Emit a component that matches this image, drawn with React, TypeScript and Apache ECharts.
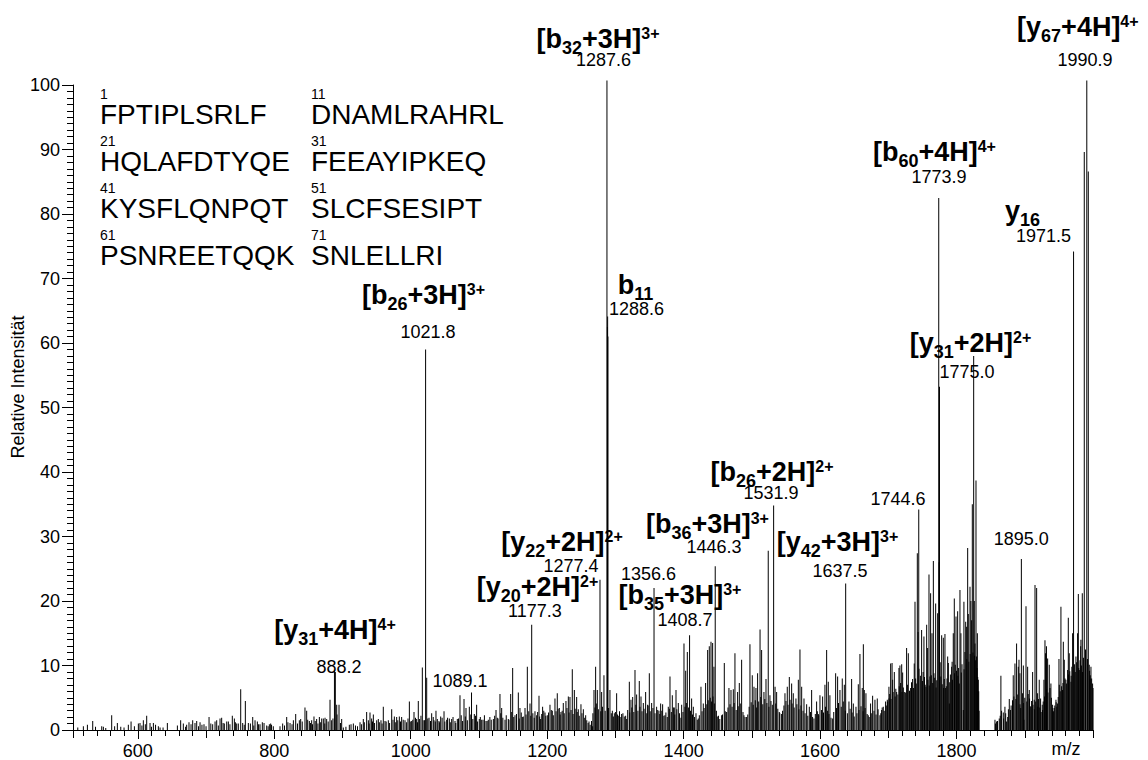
import { useEffect, useRef } from 'react';
import * as echarts from 'echarts';

const FONT = 'Liberation Sans, Arial, Helvetica, sans-serif';

// ---- labelled / tall peaks [m/z, relative intensity] ----
const majorPeaks: number[][] = [
  [888.2, 9.3], [889.5, 9.0], [1021.8, 59.0], [1089.1, 5.8], [1177.3, 16.3], [1277.4, 23.3],
  [1287.6, 100.7], [1288.3, 62.5], [1288.6, 64.1], [1289.0, 61.0], [1356.6, 22.0], [1408.7, 14.7],
  [1446.3, 25.4], [1524.0, 27.8], [1531.9, 34.8], [1637.5, 22.7], [1744.6, 34.2], [1773.9, 82.5],
  [1775.0, 53.2], [1825.1, 58.0], [1895.0, 26.5], [1971.5, 74.2], [1987.2, 89.6], [1990.9, 100.7],
  [1993.1, 86.6],
];

const peaksLow: number[][] = [
  [520.2, 0.6], [526.1, 0.8], [533.9, 1.4], [547.1, 0.6], [549.5, 0.5], [561.7, 2.3], [570.0, 1.1], [579.8, 0.4],
  [586.1, 0.8], [590.1, 1.3], [600.8, 1.0], [603.2, 1.1], [608.1, 1.5], [613.0, 2.2], [617.9, 1.1], [622.8, 1.1],
  [630.1, 0.6], [632.6, 0.4], [643.3, 1.1], [658.0, 0.7], [662.8, 1.5], [666.7, 1.0], [671.6, 0.8], [675.0, 1.2],
  [680.4, 1.5], [683.8, 1.1], [686.3, 1.4], [691.2, 1.2], [697.0, 0.9], [704.4, 2.0], [709.7, 0.9], [713.2, 1.3],
  [715.6, 1.5], [720.5, 1.8], [722.9, 1.9], [726.8, 1.0], [730.3, 1.3], [732.7, 1.3], [738.5, 2.2], [741.5, 1.8],
  [744.9, 1.0], [747.3, 1.0], [750.8, 6.3], [753.7, 1.1], [757.6, 4.5], [762.0, 1.1], [768.4, 2.0], [771.8, 1.5],
  [775.2, 1.3], [779.1, 0.9], [782.5, 1.2], [788.9, 0.7], [792.8, 0.9], [794.7, 1.0], [798.6, 0.6], [808.4, 0.6],
  [812.3, 1.0], [818.2, 2.0], [823.1, 1.1], [828.0, 1.5], [831.4, 2.5], [836.7, 1.5], [838.7, 1.7], [845.0, 3.5],
  [847.5, 3.0], [851.4, 1.4], [854.8, 1.5], [858.2, 2.1], [862.1, 1.7], [866.1, 2.0], [869.5, 1.8], [871.9, 1.8],
  [874.4, 1.9], [876.8, 1.7], [881.7, 4.7], [884.1, 1.5], [891.5, 3.9], [894.9, 3.9], [898.8, 1.7], [901.2, 0.4],
  [910.0, 0.8], [912.5, 0.9], [915.9, 1.0], [925.7, 1.2], [930.5, 1.7], [935.4, 2.8], [937.9, 1.5], [940.3, 2.7],
  [942.7, 1.8], [945.2, 2.4], [950.1, 1.5], [952.5, 1.7], [956.4, 1.5], [959.8, 3.6], [962.3, 1.4], [967.2, 1.5],
  [972.1, 3.2], [976.0, 2.1], [979.4, 2.0], [983.3, 2.1], [986.7, 2.0], [991.6, 1.5], [998.0, 4.4], [1001.4, 1.4],
  [1004.8, 2.8], [1008.7, 1.7], [1011.1, 4.5], [1017.0, 9.7], [1019.4, 1.5], [1023.4, 8.1], [1026.8, 1.9],
  [1030.7, 2.6], [1034.1, 1.5], [1037.0, 3.0], [1041.4, 1.4], [1043.9, 2.1],
];

const peaksMid: number[][] = [
  [1048.8, 2.9], [1052.7, 1.6], [1056.6, 1.8], [1060.0, 1.7], [1064.9, 1.4], [1068.3, 1.7], [1072.2, 5.4],
  [1078.1, 4.8], [1081.0, 3.4], [1085.9, 3.6], [1093.2, 2.5], [1096.6, 3.9], [1100.5, 1.7], [1104.0, 1.6],
  [1110.3, 1.4], [1113.7, 1.6], [1121.1, 1.7], [1125.0, 3.1], [1126.9, 1.9], [1130.8, 5.6], [1133.3, 3.4],
  [1138.2, 1.6], [1143.0, 1.7], [1146.5, 5.6], [1149.4, 9.6], [1152.8, 2.3], [1157.7, 5.8], [1160.1, 3.4],
  [1163.6, 2.0], [1167.5, 3.4], [1170.9, 9.8], [1174.8, 4.1], [1182.1, 2.9], [1184.6, 2.3], [1188.0, 5.3],
  [1190.4, 1.7], [1193.3, 3.6], [1196.8, 2.7], [1200.2, 2.3], [1204.1, 3.9], [1207.5, 3.0], [1211.4, 4.9],
  [1214.8, 5.7], [1217.8, 3.4], [1220.2, 2.8], [1223.6, 4.2], [1227.5, 4.5], [1231.0, 5.2], [1233.4, 5.1],
  [1236.8, 9.4], [1239.8, 6.2], [1243.2, 5.1], [1245.6, 3.2], [1249.5, 4.0], [1253.0, 3.2], [1256.4, 2.3],
  [1261.3, 1.3], [1266.6, 0.6], [1268.6, 6.2], [1271.0, 9.8], [1273.5, 6.2], [1279.8, 5.9], [1283.2, 8.5],
  [1292.0, 6.2], [1295.5, 3.0], [1298.4, 2.6], [1301.8, 5.7], [1304.2, 2.2], [1309.1, 2.5], [1313.0, 2.1],
  [1316.5, 1.7], [1320.4, 7.5], [1322.8, 4.7], [1325.3, 5.1], [1328.7, 9.3], [1331.1, 5.5], [1335.0, 7.6],
  [1337.5, 5.2], [1340.9, 4.2], [1344.3, 5.9], [1347.2, 3.9], [1349.7, 8.8], [1353.1, 4.2], [1360.4, 3.6],
  [1363.8, 3.0], [1366.3, 4.1], [1369.2, 4.0], [1372.6, 2.3], [1377.5, 3.6], [1380.0, 8.3], [1383.4, 5.4],
  [1386.3, 3.5], [1388.8, 6.2], [1392.2, 4.2], [1397.1, 3.9], [1400.5, 13.4], [1403.0, 9.2], [1405.4, 12.1],
  [1411.7, 4.9], [1414.2, 3.6], [1418.1, 2.6], [1421.5, 1.8], [1425.4, 6.7], [1428.8, 4.1], [1432.2, 7.3],
  [1435.2, 12.4], [1437.6, 13.0], [1440.1, 13.7], [1442.5, 13.5], [1444.4, 9.8], [1449.3, 2.1], [1455.7, 2.3],
  [1459.6, 10.4], [1463.0, 2.8], [1466.4, 6.5], [1469.4, 6.2], [1472.8, 6.3], [1475.2, 11.9], [1479.1, 5.9],
  [1481.6, 7.3], [1485.0, 10.9], [1488.4, 2.3], [1492.3, 2.0], [1497.2, 13.3], [1500.6, 8.5], [1503.1, 6.7],
  [1506.0, 6.5], [1508.4, 8.8], [1512.0, 15.6], [1514.3, 12.4], [1517.7, 5.9], [1520.7, 7.9], [1526.5, 5.4],
  [1534.0, 6.7], [1536.3, 5.9], [1540.2, 2.8], [1543.6, 2.5], [1548.5, 5.7], [1551.9, 6.7], [1554.9, 8.2],
  [1558.3, 7.2], [1560.7, 5.7], [1564.6, 4.9], [1568.1, 7.8], [1570.5, 12.5], [1573.0, 6.7], [1576.4, 4.9],
  [1580.3, 4.0], [1584.2, 3.6], [1586.0, 2.8], [1587.6, 6.2], [1591.0, 1.8], [1594.9, 4.4], [1597.4, 2.5],
  [1599.8, 5.4], [1603.7, 5.2], [1607.1, 7.0], [1609.6, 12.4], [1612.0, 7.5], [1614.4, 5.4], [1618.4, 1.8],
];

const peaksHigh: number[][] = [
  [1622.8, 8.8], [1625.7, 8.3], [1629.1, 6.2], [1632.5, 8.0], [1635.5, 7.0], [1642.3, 4.4], [1646.2, 7.9],
  [1648.7, 4.1], [1652.6, 3.6], [1656.0, 7.1], [1658.4, 11.8], [1661.8, 6.5], [1663.4, 13.3], [1664.8, 6.2],
  [1667.2, 5.7], [1670.6, 2.3], [1674.0, 4.1], [1677.0, 5.3], [1680.4, 4.7], [1683.8, 4.9], [1687.7, 2.3],
  [1690.2, 3.1], [1692.6, 3.6], [1696.0, 4.4], [1698.5, 4.7], [1700.9, 6.7], [1703.4, 10.3], [1705.5, 10.4],
  [1706.3, 7.8], [1708.8, 9.0], [1712.2, 5.9], [1715.6, 9.6], [1717.0, 10.0], [1718.0, 7.3], [1719.6, 10.2],
  [1721.0, 8.9], [1723.4, 5.9], [1726.8, 12.7], [1729.3, 11.9], [1732.7, 6.5], [1735.6, 7.9], [1738.0, 10.3],
  [1739.1, 19.9], [1742.5, 27.4], [1743.6, 15.2], [1748.8, 15.5], [1752.2, 14.5], [1755.2, 6.7], [1756.2, 16.3],
  [1757.6, 12.7], [1759.6, 24.1], [1761.0, 8.3], [1762.0, 21.2], [1764.0, 15.0], [1766.0, 26.2], [1766.9, 8.8],
  [1769.4, 19.6], [1772.3, 18.1], [1774.5, 26.0], [1778.2, 14.7], [1780.6, 14.3], [1783.0, 14.9], [1784.0, 6.5],
  [1787.0, 11.4], [1788.0, 10.4], [1789.4, 4.1], [1792.8, 9.8], [1793.5, 10.6], [1795.2, 15.0], [1796.7, 20.4],
  [1798.1, 10.1], [1799.2, 17.6], [1801.6, 18.4], [1804.0, 7.2], [1805.0, 21.7], [1806.4, 15.0], [1809.9, 3.1],
  [1810.8, 19.9], [1812.3, 12.1], [1813.4, 16.8], [1814.8, 16.0], [1816.3, 28.2], [1817.2, 18.0], [1819.7, 22.2],
  [1821.0, 20.0], [1822.1, 17.0], [1823.1, 35.0], [1826.0, 20.0], [1827.0, 13.4], [1828.5, 38.7], [1829.4, 11.4],
  [1830.5, 15.0], [1831.9, 7.8], [1833.0, 3.0],
];

const peaksTail: number[][] = [
  [1856.3, 1.6], [1858.7, 1.3], [1862.6, 1.8], [1865.0, 8.4], [1868.5, 2.7], [1870.9, 3.6], [1873.4, 1.3],
  [1877.3, 4.8], [1879.2, 3.1], [1883.1, 8.5], [1885.6, 10.3], [1888.0, 13.4], [1890.5, 9.8], [1891.5, 10.9],
  [1892.9, 8.8], [1896.8, 5.7], [1897.9, 10.0], [1898.8, 1.6], [1901.8, 19.2], [1904.2, 9.8], [1906.6, 6.2],
  [1909.0, 3.6], [1911.5, 9.0], [1913.9, 4.7], [1915.0, 22.5], [1917.4, 22.0], [1918.8, 5.7], [1921.2, 7.8],
  [1923.2, 4.9], [1925.6, 3.9], [1928.1, 7.8], [1929.6, 13.9], [1930.5, 11.9], [1931.8, 13.0], [1933.5, 11.1],
  [1935.9, 10.1], [1938.3, 7.2], [1940.8, 3.9], [1943.2, 3.4], [1945.7, 4.7], [1948.1, 4.1], [1950.1, 11.0],
  [1950.6, 7.0], [1953.0, 19.1], [1955.4, 6.2], [1956.5, 13.7], [1957.9, 10.9], [1960.3, 7.8], [1962.8, 9.3],
  [1963.8, 17.4], [1965.2, 11.9], [1967.7, 7.5], [1970.1, 15.0], [1975.0, 11.4], [1977.4, 15.0], [1978.5, 21.1],
  [1979.9, 9.3], [1981.9, 13.0], [1982.3, 14.0], [1984.3, 21.2], [1984.7, 9.0], [1994.5, 10.1], [1995.6, 8.0],
  [1997.0, 9.8], [1999.4, 7.2],
];

// ---- low "grass" peaks along the baseline ----
const grassLow: number[][] = [
  [512, 0.4], [538, 0.5], [553, 0.3], [566, 0.6], [575, 0.5], [595, 0.6], [606, 0.7], [611, 0.9], [620, 0.5],
  [626, 0.8], [637, 0.4], [670, 0.5], [678, 0.9], [689, 0.6], [694, 0.8], [700, 0.6], [707, 1.0], [718, 0.7],
  [725, 1.1], [735, 0.9], [743, 1.2], [756, 0.8], [765, 1.0], [770, 0.7], [777, 0.9], [785, 1.1], [791, 0.6],
  [796, 0.8], [815, 0.7], [820, 1.2], [826, 0.9], [834, 1.0], [841, 1.3], [849, 1.6], [853, 1.1], [856, 0.9],
  [860, 1.4], [864, 1.0], [868, 1.2], [874, 1.0], [879, 1.3], [886, 1.8], [892, 2.4], [897, 1.1],
  [905, 0.5], [919, 0.7], [922, 0.6], [928, 0.9], [932, 1.2], [939, 1.0], [944, 1.3], [947, 1.1], [954, 1.2],
  [958, 1.0], [964, 1.3], [969, 1.1], [974, 1.6], [978, 1.2], [981, 1.5], [985, 1.3], [989, 1.6], [994, 1.2],
  [996, 1.8], [1000, 1.3], [1003, 1.6], [1007, 1.9], [1010, 1.2], [1013, 1.7], [1015, 2.2], [1020, 1.5],
  [1025, 1.8], [1029, 1.4], [1033, 2.0], [1036, 1.3], [1039, 1.7], [1042, 1.2], [1046, 1.9],
];

const grassMid: number[][] = [
  [1050, 1.3], [1054, 1.9], [1058, 1.2], [1062, 2.0], [1066, 1.1], [1070, 1.8], [1074, 2.3], [1076, 1.4],
  [1080, 2.1], [1083, 1.5], [1088, 2.4], [1091, 1.7], [1095, 2.2], [1098, 1.3], [1102, 2.0], [1106, 1.6],
  [1108, 2.3], [1112, 1.4], [1116, 2.0], [1118, 1.6], [1123, 2.2], [1128, 1.8], [1132, 2.6], [1135, 1.9],
  [1140, 2.3], [1144, 1.6], [1148, 2.8], [1151, 2.0], [1155, 2.5], [1159, 1.8], [1162, 2.7], [1165, 2.1],
  [1169, 2.4], [1173, 2.9], [1176, 2.2], [1179, 2.6], [1181, 1.9], [1186, 2.8], [1189, 2.1], [1192, 2.5],
  [1195, 3.0], [1198, 2.2], [1202, 2.7], [1206, 3.1], [1209, 2.3], [1213, 2.9], [1216, 3.3], [1219, 2.4],
  [1222, 3.0], [1225, 2.6], [1229, 3.4], [1232, 2.7], [1235, 3.1], [1238, 2.5], [1241, 3.3], [1244, 2.8],
  [1247, 2.2], [1251, 2.6], [1255, 1.9], [1258, 1.5], [1260, 1.1], [1263, 0.8], [1265, 1.4], [1267, 2.6],
  [1270, 3.5], [1272, 4.1], [1275, 3.2], [1278.5, 2.9], [1281, 3.6], [1285, 3.0], [1290, 3.4], [1294, 2.6],
  [1297, 2.1], [1300, 2.8], [1303, 2.4], [1306, 2.9], [1308, 2.0], [1311, 2.6], [1315, 2.2], [1318, 3.1],
  [1321, 2.7], [1324, 3.5], [1327, 2.8], [1330, 3.9], [1333, 3.0], [1336, 3.6], [1339, 2.9], [1342, 3.3],
  [1346, 2.6], [1348, 3.8], [1351, 2.9], [1355, 3.4], [1358, 2.6], [1362, 3.1], [1365, 2.5], [1368, 3.0],
  [1371, 2.2], [1374, 2.7], [1376, 2.0], [1379, 3.3], [1382, 2.8], [1385, 3.5], [1387, 2.4], [1390, 3.2],
  [1394, 2.6], [1396, 1.9], [1399, 2.8], [1402, 3.6], [1404, 4.2], [1407, 3.5], [1410, 3.0], [1413, 2.4],
  [1416, 2.0], [1420, 1.6], [1423, 2.3], [1427, 2.9], [1430, 3.4], [1434, 4.0], [1436, 4.6], [1439, 5.0],
  [1441, 4.4], [1443, 5.2], [1445, 4.1], [1448, 3.0], [1451, 2.2], [1453, 1.7], [1457, 2.4], [1461, 2.9],
  [1465, 3.5], [1468, 4.0], [1471, 3.6], [1474, 4.2], [1477, 3.1], [1480, 3.7], [1483, 4.1], [1487, 2.8],
  [1490, 2.0], [1494, 2.4], [1496, 3.6], [1499, 4.3],
];

const grassHigh: number[][] = [
  [1502, 3.9], [1505, 4.6], [1507, 3.5], [1510, 4.4], [1513, 5.1], [1516, 4.0], [1519, 4.8], [1522, 4.2],
  [1525, 3.6], [1528, 4.5], [1530, 3.9], [1535, 4.1], [1538, 3.3], [1541, 2.6], [1545, 3.0], [1547, 3.8],
  [1550, 4.5], [1553, 3.9], [1556, 4.7], [1559, 4.1], [1562, 3.5], [1566, 4.0], [1569, 3.2], [1572, 3.8],
  [1575, 3.0], [1578, 2.6], [1582, 2.2], [1589, 2.0], [1593, 2.5], [1596, 2.9], [1598, 2.3], [1602, 3.1],
  [1605, 2.7], [1608, 3.6], [1611, 3.0], [1613, 2.5], [1616, 1.9], [1620, 2.8], [1624, 3.4], [1627, 4.2],
  [1631, 3.6], [1634, 4.4], [1637, 3.0], [1640, 2.6], [1644, 3.3], [1647, 2.7], [1650, 2.1], [1654, 2.6],
  [1657, 3.1], [1660, 3.7], [1663, 2.9], [1666, 3.4], [1669, 2.5], [1672, 2.0], [1675, 2.6], [1679, 3.0],
  [1682, 2.4], [1685, 3.2], [1689, 2.6], [1691, 3.5], [1694, 3.0], [1697, 3.8], [1699, 4.4],
  [1701, 4.9], [1702, 5.6], [1704, 4.8], [1707, 5.9], [1710, 5.2], [1711, 6.4], [1714, 5.5], [1716, 6.8],
  [1720, 5.9], [1722, 6.6], [1725, 5.8], [1728, 7.0], [1731, 6.1], [1734, 7.4], [1737, 6.5], [1740, 8.0],
  [1741, 7.2], [1745, 9.5], [1747, 8.4], [1750, 7.6], [1751, 9.0], [1753, 8.2], [1754, 7.0], [1758, 7.8],
  [1760, 6.9], [1763, 8.5], [1765, 7.3], [1768, 8.1], [1770, 6.6], [1771, 7.7], [1776, 10.5], [1777, 8.3],
  [1779, 7.1], [1781, 6.5], [1782, 7.9], [1785, 6.8], [1786, 8.0], [1790, 7.4], [1791, 8.6], [1794, 7.8],
  [1797, 8.8], [1800, 9.2], [1802, 8.4], [1803, 9.6], [1807, 8.9], [1808, 10.2], [1811, 9.4], [1815, 11.0],
  [1818, 10.6], [1820, 11.8], [1824, 12.0], [1826.5, 11.5], [1828, 10.8], [1830, 9.6], [1831, 8.2], [1832.5, 6.0],
];

const grassTail: number[][] = [
  [1857, 1.0], [1860, 1.4], [1864, 2.2], [1866, 3.0], [1869, 1.8], [1872, 2.6], [1875, 2.0], [1876, 3.2],
  [1880, 3.8], [1882, 4.6], [1884, 5.2], [1887, 4.8], [1889, 5.5], [1893, 4.0], [1894, 3.4], [1898, 4.2],
  [1900, 5.0], [1903, 4.4], [1905, 5.6], [1907, 4.9], [1908, 3.7], [1910, 4.5], [1912, 3.9], [1914, 3.2],
  [1916, 4.4], [1919, 3.6], [1920, 4.8], [1922, 3.5], [1924, 2.8], [1926, 3.1], [1927, 4.4], [1929, 5.2],
  [1932, 6.3], [1934, 5.8], [1937, 6.5], [1939, 5.0], [1941, 3.4], [1942, 2.9], [1944, 3.8], [1946, 4.3],
  [1947, 3.6], [1949, 5.1], [1952, 6.0], [1954, 6.8], [1956, 7.3], [1959, 8.0], [1961, 7.2], [1964, 8.6],
  [1966, 9.1], [1968, 8.4], [1969, 9.8], [1973, 10.2], [1974, 9.0], [1976, 10.5], [1979, 9.6], [1981, 10.8],
  [1983, 10.0], [1986, 11.2], [1989, 12.5], [1992, 11.0], [1995, 9.2], [1996, 8.5], [1998, 8.0], [2000, 6.5],
];

// ---- annotations ----
const ionLabels: string[] = [
  '{b|[y}{s|67}{b|+4H]}{p|4+}',
  '{b|[b}{s|60}{b|+4H]}{p|4+}',
  '{b|y}{s|16}',
  '{b|[y}{s|31}{b|+2H]}{p|2+}',
  '{b|[b}{s|32}{b|+3H]}{p|3+}',
  '{b|b}{s|11}',
  '{b|[b}{s|26}{b|+3H]}{p|3+}',
  '{b|[b}{s|26}{b|+2H]}{p|2+}',
  '{b|[b}{s|36}{b|+3H]}{p|3+}',
  '{b|[y}{s|42}{b|+3H]}{p|3+}',
  '{b|[y}{s|22}{b|+2H]}{p|2+}',
  '{b|[y}{s|20}{b|+2H]}{p|2+}',
  '{b|[b}{s|35}{b|+3H]}{p|3+}',
  '{b|[y}{s|31}{b|+4H]}{p|4+}',
];
const ionLabelAnchors: number[][] = [
  [1977.8, 109.0], [1767.6, 89.6], [1896.6, 80.4], [1820.4, 60.0], [1274.5, 107.2], [1329.4, 69.0],
  [1018.7, 67.5], [1529.5, 40.0], [1434.9, 32.0], [1625.5, 29.2], [1221.7, 29.2], [1185.8, 22.2],
  [1394.6, 20.9], [889.0, 15.5],
];

const mzLabels: string[] = [
  '1990.9', '1773.9', '1971.5', '1775.0', '1287.6', '1288.6', '1021.8', '1531.9', '1744.6',
  '1446.3', '1637.5', '1277.4', '1356.6', '1177.3', '1408.7', '888.2', '1089.1', '1895.0',
];
const mzLabelAnchors: number[][] = [
  [1988.2, 103.9], [1774.2, 85.7], [1927.4, 76.6], [1815.3, 55.5], [1282.5, 103.9], [1330.9, 65.3],
  [1025.3, 61.7], [1528.0, 36.7], [1714.2, 35.8], [1444.5, 28.3], [1629.1, 24.7], [1234.9, 25.4],
  [1348.5, 24.2], [1182.1, 18.5], [1402.0, 17.1], [894.9, 9.8], [1072.2, 7.6], [1894.9, 29.6],
];

const seqRows: string[][] = [
  ['1', 'FPTIPLSRLF', '11', 'DNAMLRAHRL'],
  ['21', 'HQLAFDTYQE', '31', 'FEEAYIPKEQ'],
  ['41', 'KYSFLQNPQT', '51', 'SLCFSESIPT'],
  ['61', 'PSNREETQQK', '71', 'SNLELLRI'],
];

const yAxisTitle = 'Relative Intensität';
const xAxisTitle = 'm/z';

export default function App() {
  const ref = useRef<HTMLDivElement>(null);

  useEffect(() => {
    if (!ref.current) return;
    const chart = echarts.init(ref.current, null, { renderer: 'svg' });

    const peaks = [
      ...majorPeaks, ...peaksLow, ...peaksMid, ...peaksHigh, ...peaksTail,
      ...grassLow, ...grassMid, ...grassHigh, ...grassTail,
    ];

    const graphics: any[] = [];
    seqRows.forEach((row, i) => {
      const cy = 114 + i * 47;
      [[row[0], row[1], 100], [row[2], row[3], 311]].forEach(([num, seq, x]) => {
        graphics.push({
          type: 'text', x: x as number, y: cy - 20,
          style: { text: num as string, fontSize: 14, fontFamily: FONT, fill: '#000', align: 'left', verticalAlign: 'middle' },
        });
        graphics.push({
          type: 'text', x: x as number, y: cy,
          style: { text: seq as string, fontSize: 28, fontFamily: FONT, fill: '#000', align: 'left', verticalAlign: 'middle' },
        });
      });
    });
    graphics.push({
      type: 'text', x: 18, y: 387, rotation: Math.PI / 2,
      style: { text: yAxisTitle, fontSize: 18, fontFamily: FONT, fill: '#000', align: 'center', verticalAlign: 'middle' },
    });
    graphics.push({
      type: 'text', x: 1066, y: 749,
      style: { text: xAxisTitle, fontSize: 18, fontFamily: FONT, fill: '#000', align: 'center', verticalAlign: 'middle' },
    });

    const tickAxis = (splitNumber: number, len: number) => ({
      type: 'value', min: 505, max: 2000, splitNumber, position: 'bottom',
      axisLine: { show: false },
      axisTick: { show: true, length: len, lineStyle: { color: '#000', width: 1 } },
      axisLabel: { show: false },
      splitLine: { show: false },
    });

    const noBorder = { textBorderWidth: 0, textShadowBlur: 0, textBorderColor: 'transparent', opacity: 1 };

    chart.setOption({
      animation: false,
      backgroundColor: '#ffffff',
      textStyle: { fontFamily: FONT },
      grid: { left: 73, right: 55, top: 85, bottom: 30, containLabel: false },
      xAxis: [
        {
          type: 'value', min: 505, max: 2000, splitNumber: 7, position: 'bottom',
          axisLine: { show: true, onZero: false, lineStyle: { color: '#000', width: 1 } },
          axisTick: { show: true, length: 9, lineStyle: { color: '#000', width: 1 } },
          axisLabel: {
            show: true, color: '#000', fontSize: 18, fontFamily: FONT, margin: 12,
            showMinLabel: false, showMaxLabel: false,
            formatter: (v: number) => String(v),
          },
          splitLine: { show: false },
        },
        tickAxis(15, 8),
        tickAxis(75, 6),
      ],
      yAxis: {
        type: 'value', min: 0, max: 100, interval: 10,
        axisLine: { show: true, lineStyle: { color: '#000', width: 1 } },
        axisTick: { show: true, length: 11, lineStyle: { color: '#000', width: 1 } },
        minorTick: { show: true, splitNumber: 10, length: 6, lineStyle: { color: '#000', width: 1 } },
        axisLabel: { color: '#000', fontSize: 18, fontFamily: FONT, margin: 13, formatter: (v: number) => String(v) },
        splitLine: { show: false },
        minorSplitLine: { show: false },
      },
      graphic: graphics,
      series: [
        {
          type: 'bar', xAxisIndex: 0, yAxisIndex: 0, data: peaks, barWidth: 1,
          itemStyle: { color: '#000', opacity: 1 }, clip: false, silent: true,
        },
        {
          type: 'scatter', xAxisIndex: 0, yAxisIndex: 0, data: ionLabelAnchors, symbolSize: 0,
          clip: false, silent: true, z: 5,
          itemStyle: { color: '#000', opacity: 1 },
          label: {
            show: true, position: 'inside', color: '#000', ...noBorder,
            formatter: (p: any) => ionLabels[p.dataIndex],
            rich: {
              b: { fontSize: 27, fontWeight: 'bold', fontFamily: FONT, color: '#000', ...noBorder },
              s: { fontSize: 18, fontWeight: 'bold', fontFamily: FONT, color: '#000', padding: [18, 0, 0, 0], ...noBorder },
              p: { fontSize: 16, fontWeight: 'bold', fontFamily: FONT, color: '#000', padding: [0, 0, 11, 0], ...noBorder },
            },
          },
        },
        {
          type: 'scatter', xAxisIndex: 0, yAxisIndex: 0, data: mzLabelAnchors, symbolSize: 0,
          clip: false, silent: true, z: 5,
          itemStyle: { color: '#000', opacity: 1 },
          label: {
            show: true, position: 'inside', color: '#000', fontSize: 18, fontFamily: FONT, ...noBorder,
            formatter: (p: any) => mzLabels[p.dataIndex],
          },
        },
      ],
    });

    return () => chart.dispose();
  }, []);

  return (
    <div
      ref={ref}
      style={{ position: 'fixed', left: 0, top: 0, width: 1148, height: 760, background: '#fff' }}
    />
  );
}
